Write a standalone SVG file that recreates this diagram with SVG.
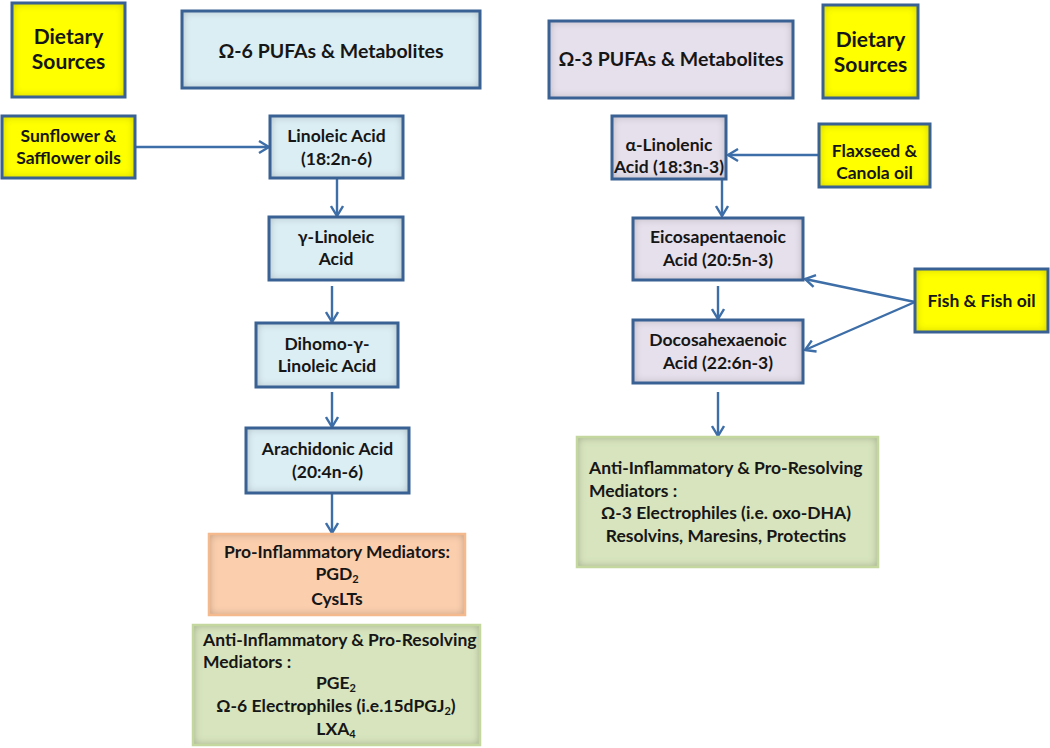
<svg xmlns="http://www.w3.org/2000/svg" width="1050" height="748" viewBox="0 0 1050 748">
<defs>
  <filter id="inset" x="-5%" y="-5%" width="110%" height="110%">
    <feFlood flood-color="#000" flood-opacity="0.6" result="f"/>
    <feComposite in="f" in2="SourceAlpha" operator="out" result="o"/>
    <feGaussianBlur in="o" stdDeviation="4" result="b"/>
    <feComposite in="b" in2="SourceAlpha" operator="in" result="s"/>
    <feMerge><feMergeNode in="SourceGraphic"/><feMergeNode in="s"/></feMerge>
  </filter>
  <marker id="arr" viewBox="0 0 12 14" refX="11" refY="7" markerWidth="12" markerHeight="14" markerUnits="userSpaceOnUse" orient="auto">
    <path d="M1,1 L11,7 L1,13" fill="none" stroke="#3d6ea8" stroke-width="2.4"/>
  </marker>
  <style>
    .t{font-family:Lato,"Liberation Sans",sans-serif;font-weight:bold;fill:#161616;text-anchor:middle}
    .n{font-size:17.5px}
    .h{font-size:19.5px}
    .d{font-size:21px}
    .m{font-size:17.5px}
    .l{text-anchor:start}
    .bd{fill:none;stroke:#3a6194;stroke-width:3}
    .yel{fill:#ffff00}
    .blu{fill:#dbeef4}
    .pur{fill:#e6e0ec}
    .ora{fill:#fbcfae}
    .grn{fill:#d7e4bd}
    .c{stroke:#3d6ea8;stroke-width:2.4;fill:none;marker-end:url(#arr)}
  </style>
</defs>
<rect width="1050" height="748" fill="#fff"/>

<g id="connectors">
  <line class="c" x1="135" y1="147" x2="269" y2="147"/>
  <line class="c" x1="337" y1="178" x2="337" y2="216"/>
  <line class="c" x1="332" y1="286" x2="332" y2="322"/>
  <line class="c" x1="332" y1="392" x2="332" y2="427"/>
  <line class="c" x1="332" y1="493" x2="332" y2="533"/>
  <line class="c" x1="819" y1="155" x2="728" y2="155"/>
  <line class="c" x1="722" y1="179" x2="722" y2="216"/>
  <line class="c" x1="718" y1="286" x2="718" y2="319"/>
  <line class="c" x1="915" y1="302" x2="805" y2="279"/>
  <line class="c" x1="915" y1="302" x2="805" y2="350"/>
  <line class="c" x1="718" y1="392" x2="718" y2="436"/>
</g>

<g id="dietary-left">
  <rect class="yel" x="12" y="3" width="113" height="94" filter="url(#inset)"/>
  <rect class="bd" x="12" y="3" width="113" height="94"/>
  <text class="t d" x="68.5" y="44">Dietary</text>
  <text class="t d" x="68.5" y="69">Sources</text>
</g>

<g id="header-omega6">
  <rect class="blu" x="182" y="11" width="298" height="77" filter="url(#inset)"/>
  <rect class="bd" x="182" y="11" width="298" height="77"/>
  <text class="t h" x="331" y="58">Ω-6 PUFAs &amp; Metabolites</text>
</g>

<g id="header-omega3">
  <rect class="pur" x="549" y="21" width="244" height="77" filter="url(#inset)"/>
  <rect class="bd" x="549" y="21" width="244" height="77"/>
  <text class="t h" x="671" y="66">Ω-3 PUFAs &amp; Metabolites</text>
</g>

<g id="dietary-right">
  <rect class="yel" x="823" y="5" width="95" height="93" filter="url(#inset)"/>
  <rect class="bd" x="823" y="5" width="95" height="93"/>
  <text class="t d" x="870.5" y="47">Dietary</text>
  <text class="t d" x="870.5" y="72">Sources</text>
</g>

<g id="sunflower">
  <rect class="yel" x="2" y="116" width="133" height="62" filter="url(#inset)"/>
  <rect class="bd" x="2" y="116" width="133" height="62"/>
  <text class="t n" x="68.5" y="142">Sunflower &amp;</text>
  <text class="t n" x="68.5" y="164">Safflower oils</text>
</g>

<g id="linoleic">
  <rect class="blu" x="270" y="116" width="133" height="62" filter="url(#inset)"/>
  <rect class="bd" x="270" y="116" width="133" height="62"/>
  <text class="t n" x="336.5" y="142">Linoleic Acid</text>
  <text class="t n" x="336.5" y="165">(18:2n-6)</text>
</g>

<g id="gamma-linoleic">
  <rect class="blu" x="269" y="217" width="134" height="63" filter="url(#inset)"/>
  <rect class="bd" x="269" y="217" width="134" height="63"/>
  <text class="t n" x="336" y="243">γ-Linoleic</text>
  <text class="t n" x="336" y="265">Acid</text>
</g>

<g id="dihomo">
  <rect class="blu" x="256" y="323" width="142" height="64" filter="url(#inset)"/>
  <rect class="bd" x="256" y="323" width="142" height="64"/>
  <text class="t n" x="327" y="350">Dihomo-γ-</text>
  <text class="t n" x="327" y="372">Linoleic Acid</text>
</g>

<g id="arachidonic">
  <rect class="blu" x="246" y="428" width="163" height="65" filter="url(#inset)"/>
  <rect class="bd" x="246" y="428" width="163" height="65"/>
  <text class="t n" x="327.5" y="455">Arachidonic Acid</text>
  <text class="t n" x="327.5" y="478">(20:4n-6)</text>
</g>

<g id="pro-inflammatory">
  <rect class="ora" x="209" y="534" width="256" height="81" filter="url(#inset)"/>
  <rect x="209" y="534" width="256" height="81" fill="none" stroke="#f4b98c" stroke-width="2.5"/>
  <text class="t m" x="337" y="558">Pro-Inflammatory Mediators:</text>
  <text class="t m" x="337" y="580">PGD<tspan font-size="11" dy="3">2</tspan></text>
  <text class="t m" x="337" y="605">CysLTs</text>
</g>

<g id="anti-omega6">
  <rect class="grn" x="193" y="625" width="287" height="120" filter="url(#inset)"/>
  <rect x="193" y="625" width="287" height="120" fill="none" stroke="#c4d79e" stroke-width="2.5"/>
  <text class="t m l" x="203" y="646">Anti-Inflammatory &amp; Pro-Resolving</text>
  <text class="t m l" x="203" y="668">Mediators :</text>
  <text class="t m" x="336" y="689">PGE<tspan font-size="11" dy="3">2</tspan></text>
  <text class="t m" x="336" y="712">Ω-6 Electrophiles (i.e.15dPGJ<tspan font-size="11" dy="3">2</tspan><tspan dy="-3">)</tspan></text>
  <text class="t m" x="336" y="735">LXA<tspan font-size="11" dy="3">4</tspan></text>
</g>

<g id="alpha-linolenic">
  <rect class="pur" x="612" y="116" width="114" height="63" filter="url(#inset)"/>
  <rect class="bd" x="612" y="116" width="114" height="63"/>
  <text class="t n" x="669" y="151">α-Linolenic</text>
  <text class="t n" x="669" y="173">Acid (18:3n-3)</text>
</g>

<g id="flaxseed">
  <rect class="yel" x="819" y="124" width="111" height="63" filter="url(#inset)"/>
  <rect class="bd" x="819" y="124" width="111" height="63"/>
  <text class="t n" x="874.5" y="157">Flaxseed &amp;</text>
  <text class="t n" x="874.5" y="179">Canola oil</text>
</g>

<g id="epa">
  <rect class="pur" x="633" y="218" width="170" height="62" filter="url(#inset)"/>
  <rect class="bd" x="633" y="218" width="170" height="62"/>
  <text class="t n" x="718" y="243">Eicosapentaenoic</text>
  <text class="t n" x="718" y="266">Acid (20:5n-3)</text>
</g>

<g id="dha">
  <rect class="pur" x="633" y="320" width="170" height="63" filter="url(#inset)"/>
  <rect class="bd" x="633" y="320" width="170" height="63"/>
  <text class="t n" x="718" y="346">Docosahexaenoic</text>
  <text class="t n" x="718" y="369">Acid (22:6n-3)</text>
</g>

<g id="fish">
  <rect class="yel" x="915" y="269" width="133" height="63" filter="url(#inset)"/>
  <rect class="bd" x="915" y="269" width="133" height="63"/>
  <text class="t n" x="981.5" y="307">Fish &amp; Fish oil</text>
</g>

<g id="anti-omega3">
  <rect class="grn" x="577" y="437" width="301" height="130" filter="url(#inset)"/>
  <rect x="577" y="437" width="301" height="130" fill="none" stroke="#c4d79e" stroke-width="2.5"/>
  <text class="t m l" x="589" y="474">Anti-Inflammatory &amp; Pro-Resolving</text>
  <text class="t m l" x="589" y="497">Mediators :</text>
  <text class="t m" x="726" y="519">Ω-3 Electrophiles (i.e. oxo-DHA)</text>
  <text class="t m" x="726" y="542">Resolvins, Maresins, Protectins</text>
</g>
</svg>
